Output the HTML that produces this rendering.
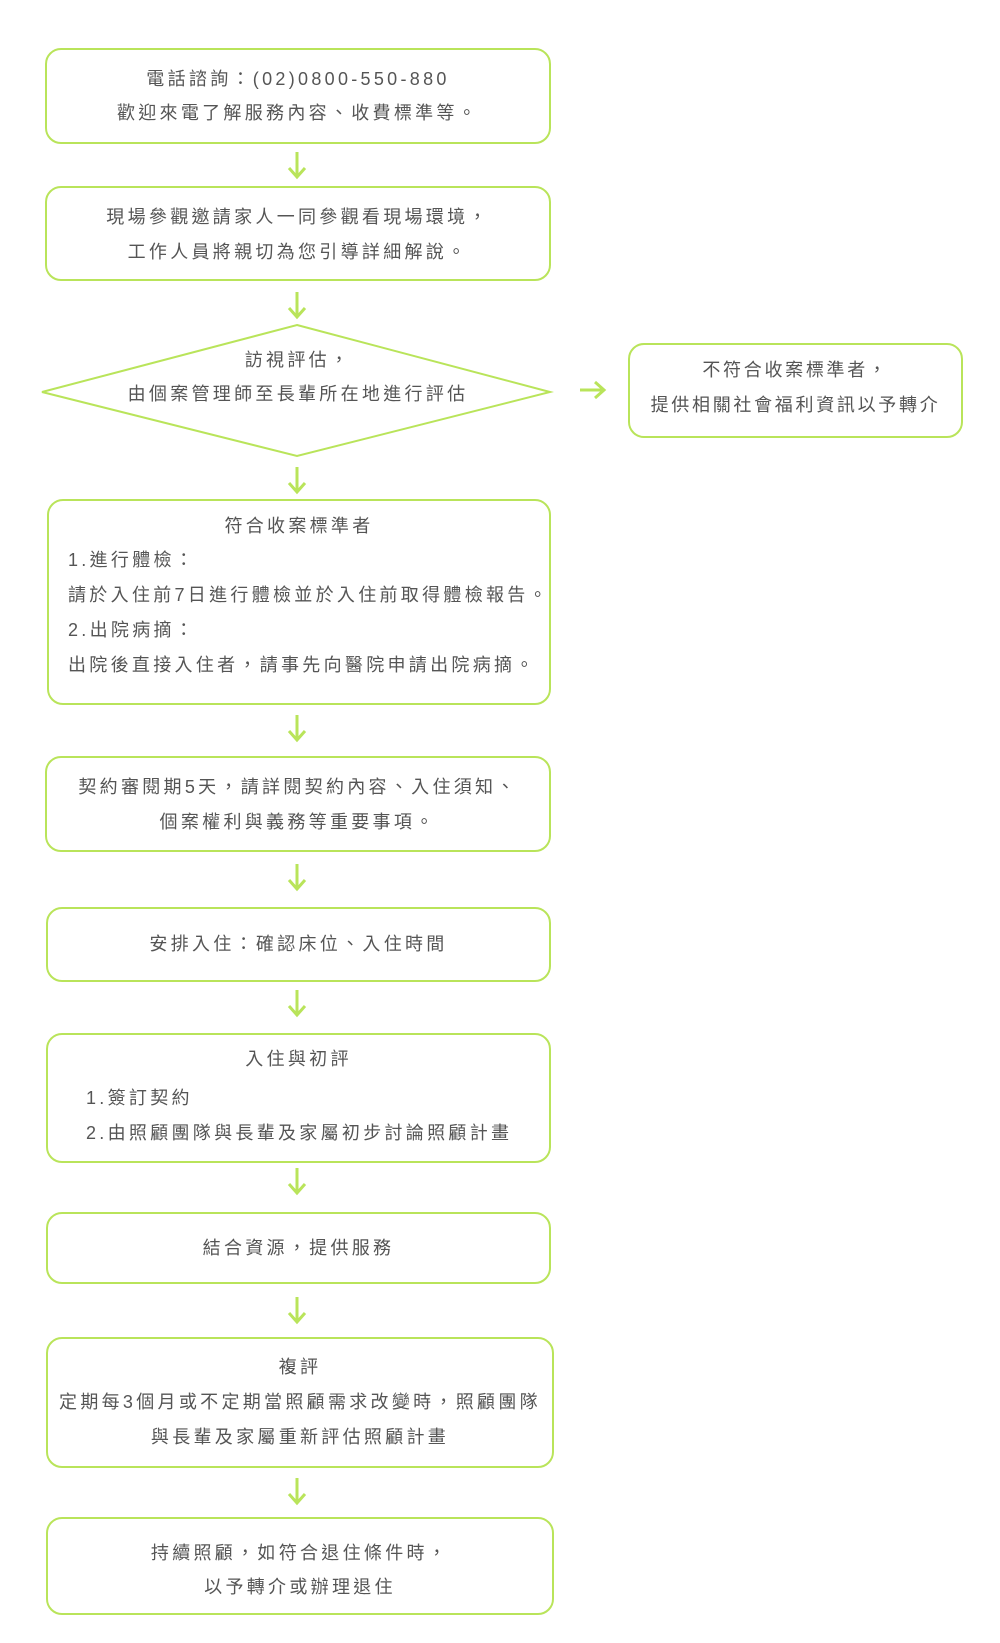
<!DOCTYPE html>
<html><head><meta charset="utf-8"><style>
body{margin:0;background:#fff;}
#c{position:relative;width:1000px;height:1643px;font-family:"Liberation Sans","Noto Sans CJK TC",sans-serif;color:#555;font-size:18px;letter-spacing:3.3px;}
.b{position:absolute;border:2px solid #b9e45a;border-radius:16px;box-sizing:border-box;}
.l{position:absolute;height:26px;line-height:26px;white-space:nowrap;}
svg{position:absolute;left:0;top:0;}
</style></head><body><div id="c">
<svg width="1000" height="1643">
<g stroke="#b9e45a" stroke-width="3" fill="none">
<polygon points="297,325 550,392 297,456 42,392" stroke-width="2"/>
<g id="a"><line x1="297" y1="152" x2="297" y2="177"/><polyline points="289,168 297,177 305,168"/></g>
<use href="#a" y="140"/>
<use href="#a" y="315"/>
<use href="#a" y="563"/>
<use href="#a" y="712"/>
<use href="#a" y="838"/>
<use href="#a" y="1016"/>
<use href="#a" y="1145"/>
<use href="#a" y="1326"/>
<line x1="580" y1="390" x2="604" y2="390"/><polyline points="595,382 604,390 595,398"/>
</g></svg>
<div class="b" style="left:45px;top:48px;width:506px;height:96px"></div>
<div class="b" style="left:45px;top:186px;width:506px;height:95px"></div>
<div class="b" style="left:628px;top:343px;width:335px;height:95px"></div>
<div class="b" style="left:47px;top:499px;width:504px;height:206px"></div>
<div class="b" style="left:45px;top:756px;width:506px;height:96px"></div>
<div class="b" style="left:46px;top:907px;width:505px;height:75px"></div>
<div class="b" style="left:46px;top:1033px;width:505px;height:130px"></div>
<div class="b" style="left:46px;top:1212px;width:505px;height:72px"></div>
<div class="b" style="left:46px;top:1337px;width:508px;height:131px"></div>
<div class="b" style="left:46px;top:1517px;width:508px;height:98px"></div>

<div class="l" style="left:45px;width:506px;text-align:center;top:66px">電話諮詢：(02)0800-550-880</div>
<div class="l" style="left:45px;width:506px;text-align:center;top:100px">歡迎來電了解服務內容、收費標準等。</div>
<div class="l" style="left:45px;width:506px;text-align:center;top:204px">現場參觀邀請家人一同參觀看現場環境，</div>
<div class="l" style="left:45px;width:506px;text-align:center;top:239px">工作人員將親切為您引導詳細解說。</div>
<div class="l" style="left:45px;width:506px;text-align:center;top:347px">訪視評估，</div>
<div class="l" style="left:45px;width:506px;text-align:center;top:381px">由個案管理師至長輩所在地進行評估</div>
<div class="l" style="left:628px;width:335px;text-align:center;top:357px;letter-spacing:2.7px">不符合收案標準者，</div>
<div class="l" style="left:628px;width:335px;text-align:center;top:392px;letter-spacing:2.7px">提供相關社會福利資訊以予轉介</div>
<div class="l" style="left:47px;width:504px;text-align:center;top:513px">符合收案標準者</div>
<div class="l" style="left:68px;top:547px">1.進行體檢：</div>
<div class="l" style="left:68px;top:582px">請於入住前7日進行體檢並於入住前取得體檢報告。</div>
<div class="l" style="left:68px;top:617px">2.出院病摘：</div>
<div class="l" style="left:68px;top:652px">出院後直接入住者，請事先向醫院申請出院病摘。</div>
<div class="l" style="left:45px;width:506px;text-align:center;top:774px">契約審閱期5天，請詳閱契約內容、入住須知、</div>
<div class="l" style="left:45px;width:506px;text-align:center;top:809px">個案權利與義務等重要事項。</div>
<div class="l" style="left:46px;width:505px;text-align:center;top:931px">安排入住：確認床位、入住時間</div>
<div class="l" style="left:46px;width:505px;text-align:center;top:1046px">入住與初評</div>
<div class="l" style="left:86px;top:1085px">1.簽訂契約</div>
<div class="l" style="left:86px;top:1120px">2.由照顧團隊與長輩及家屬初步討論照顧計畫</div>
<div class="l" style="left:46px;width:505px;text-align:center;top:1235px">結合資源，提供服務</div>
<div class="l" style="left:46px;width:508px;text-align:center;top:1354px">複評</div>
<div class="l" style="left:46px;width:508px;text-align:center;top:1389px">定期每3個月或不定期當照顧需求改變時，照顧團隊</div>
<div class="l" style="left:46px;width:508px;text-align:center;top:1424px">與長輩及家屬重新評估照顧計畫</div>
<div class="l" style="left:46px;width:508px;text-align:center;top:1540px">持續照顧，如符合退住條件時，</div>
<div class="l" style="left:46px;width:508px;text-align:center;top:1574px">以予轉介或辦理退住</div>
</div></body></html>
